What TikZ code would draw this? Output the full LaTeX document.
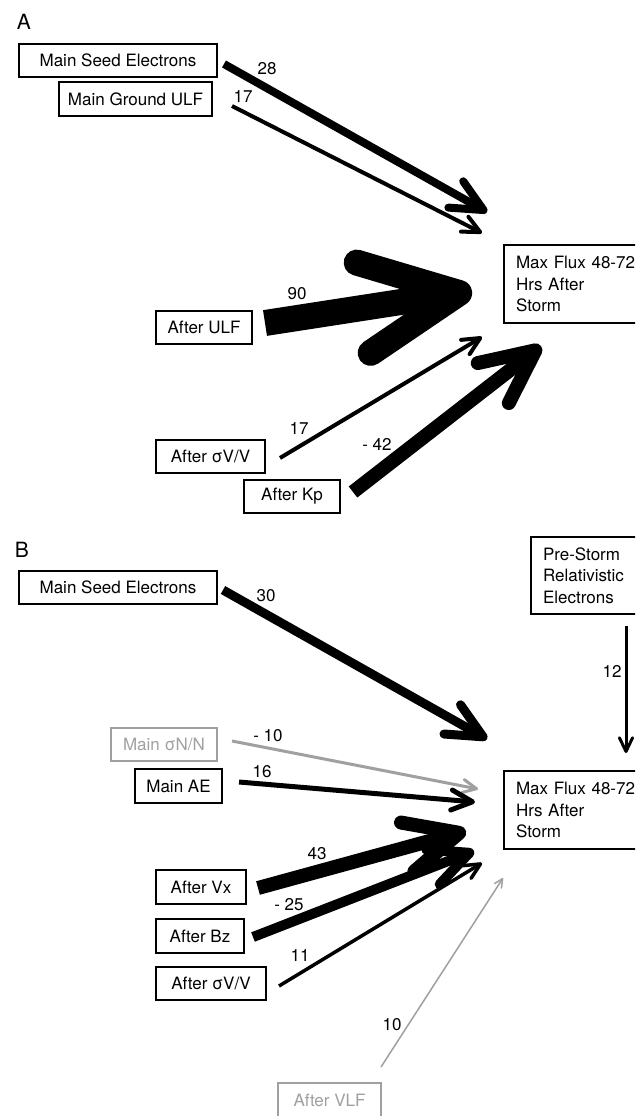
\documentclass[tikz,border=0pt]{standalone}
\usepackage{fontspec}
\setmainfont{TeX Gyre Heros}
\usetikzlibrary{arrows.meta}
\definecolor{lgray}{RGB}{160,160,160}
\begin{document}
\begin{tikzpicture}[x=1pt,y=-1pt,
  box/.style={draw, line width=2pt, minimum height=33pt, inner sep=0pt, font=\fontsize{17}{21.5}\selectfont},
  fbox/.style={draw, line width=2pt, anchor=north west, align=left, text width=200pt, inner xsep=12pt, inner ysep=0pt, font=\fontsize{17}{21.5}\selectfont},
  lab/.style={font=\fontsize{17}{20}\selectfont, inner sep=0pt},
  panel/.style={font=\fontsize{21}{24}\selectfont, inner sep=0pt},
  conn/.style={line width=#1, line cap=butt, -{Straight Barb[length=3pt 3.6, width=3pt 3.4, line cap=round, line join=round]}},
]
\useasboundingbox (0,0) rectangle (635,1116);
\clip (0,0) rectangle (635,1116);
\fill[white] (0,0) rectangle (635,1116);

% ---------------- Panel A ----------------
\node[panel] (pA) at (24,21.5) {A};
\node[box, minimum width=198pt] (mseA) at (118,60.5) {Main Seed Electrons};
\node[box, minimum width=153pt, minimum height=34pt] (mgu) at (135.5,99) {Main Ground ULF};
\node[box, minimum width=96pt] (aulf) at (204,327.5) {After ULF};
\node[box, minimum width=109pt] (asvA) at (210.5,456.5) {After σV/V};
\node[box, minimum width=96pt] (akp) at (292,496.5) {After Kp};
\node[fbox, minimum height=78pt] (mfA) at (503,244) {Max Flux 48-72\\Hrs After\\Storm};

\coordinate (sA1) at (224,64);  \coordinate (tA1) at (487,212);
\coordinate (sA2) at (232,106); \coordinate (tA2) at (482,233);
\coordinate (sA3) at (265,323); \coordinate (tA3) at (472,291);
\coordinate (sA4) at (280,458); \coordinate (tA4) at (482,337);
\coordinate (sA5) at (353,492); \coordinate (tA5) at (541,346);

\draw[conn=8pt] (sA1) -- (tA1);
\draw[conn=4pt] (sA2) -- (tA2);
\draw[conn=26pt] (sA3) -- (tA3);
\draw[conn=4pt] (sA4) -- (tA4);
\draw[conn=14pt] (sA5) -- (tA5);

\node[lab] (lA1) at (267,69) {28};
\node[lab] (lA2) at (243,96) {17};
\node[lab] (lA3) at (297,294) {90};
\node[lab] (lA4) at (299,428) {17};
\node[lab] (lA5) at (377,444) {- 42};

% ---------------- Panel B ----------------
\node[panel] (pB) at (22,550) {B};
\node[box, minimum width=198pt] (mseB) at (118,587.5) {Main Seed Electrons};
\node[box, minimum width=106pt, draw=lgray, text=lgray] (msn) at (164,744.5) {Main σN/N};
\node[box, minimum width=87pt, minimum height=34pt] (mae) at (178.5,786) {Main AE};
\node[box, minimum width=90pt, minimum height=34pt] (avx) at (201,887) {After Vx};
\node[box, minimum width=88pt, minimum height=34pt] (abz) at (200,936) {After Bz};
\node[box, minimum width=110pt] (asvB) at (211,983.5) {After σV/V};
\node[box, minimum width=103pt, minimum height=34pt, draw=lgray, text=lgray] (avlf) at (329.5,1100) {After VLF};
\node[fbox, minimum height=77pt] (pre) at (530,536) {Pre-Storm\\Relativistic\\Electrons};
\node[fbox, minimum height=78pt] (mfB) at (503,770) {Max Flux 48-72\\Hrs After\\Storm};

\coordinate (sB1) at (223,590);  \coordinate (tB1) at (487,739);
\coordinate (sB2) at (626,626);  \coordinate (tB2) at (626,753);
\coordinate (sB3) at (232,741);  \coordinate (tB3) at (478,789);
\coordinate (sB4) at (239,782);  \coordinate (tB4) at (475,802);
\coordinate (sB5) at (258,888);  \coordinate (tB5) at (466,831);
\coordinate (sB6) at (253,937);  \coordinate (tB6) at (474,851);
\coordinate (sB7) at (279,986);  \coordinate (tB7) at (482,863);
\coordinate (sB8) at (381,1067); \coordinate (tB8) at (503,878);

\draw[conn=9pt] (sB1) -- (tB1);
\draw[conn=3pt] (sB2) -- (tB2);
\draw[conn=3pt, lgray] (sB3) -- (tB3);
\draw[conn=5pt] (sB4) -- (tB4);
\draw[conn=14pt] (sB5) -- (tB5);
\draw[conn=10pt] (sB6) -- (tB6);
\draw[conn=3.5pt] (sB7) -- (tB7);
\draw[conn=1.5pt, lgray] (sB8) -- (tB8);

\node[lab] (lB1) at (266,596) {30};
\node[lab] (lB2) at (612,671) {12};
\node[lab] (lB3) at (268,736) {- 10};
\node[lab] (lB4) at (262,772) {16};
\node[lab] (lB5) at (317,854) {43};
\node[lab] (lB6) at (289,905) {- 25};
\node[lab] (lB7) at (300,955) {11};
\node[lab] (lB8) at (392,1025) {10};
\end{tikzpicture}
\end{document}
